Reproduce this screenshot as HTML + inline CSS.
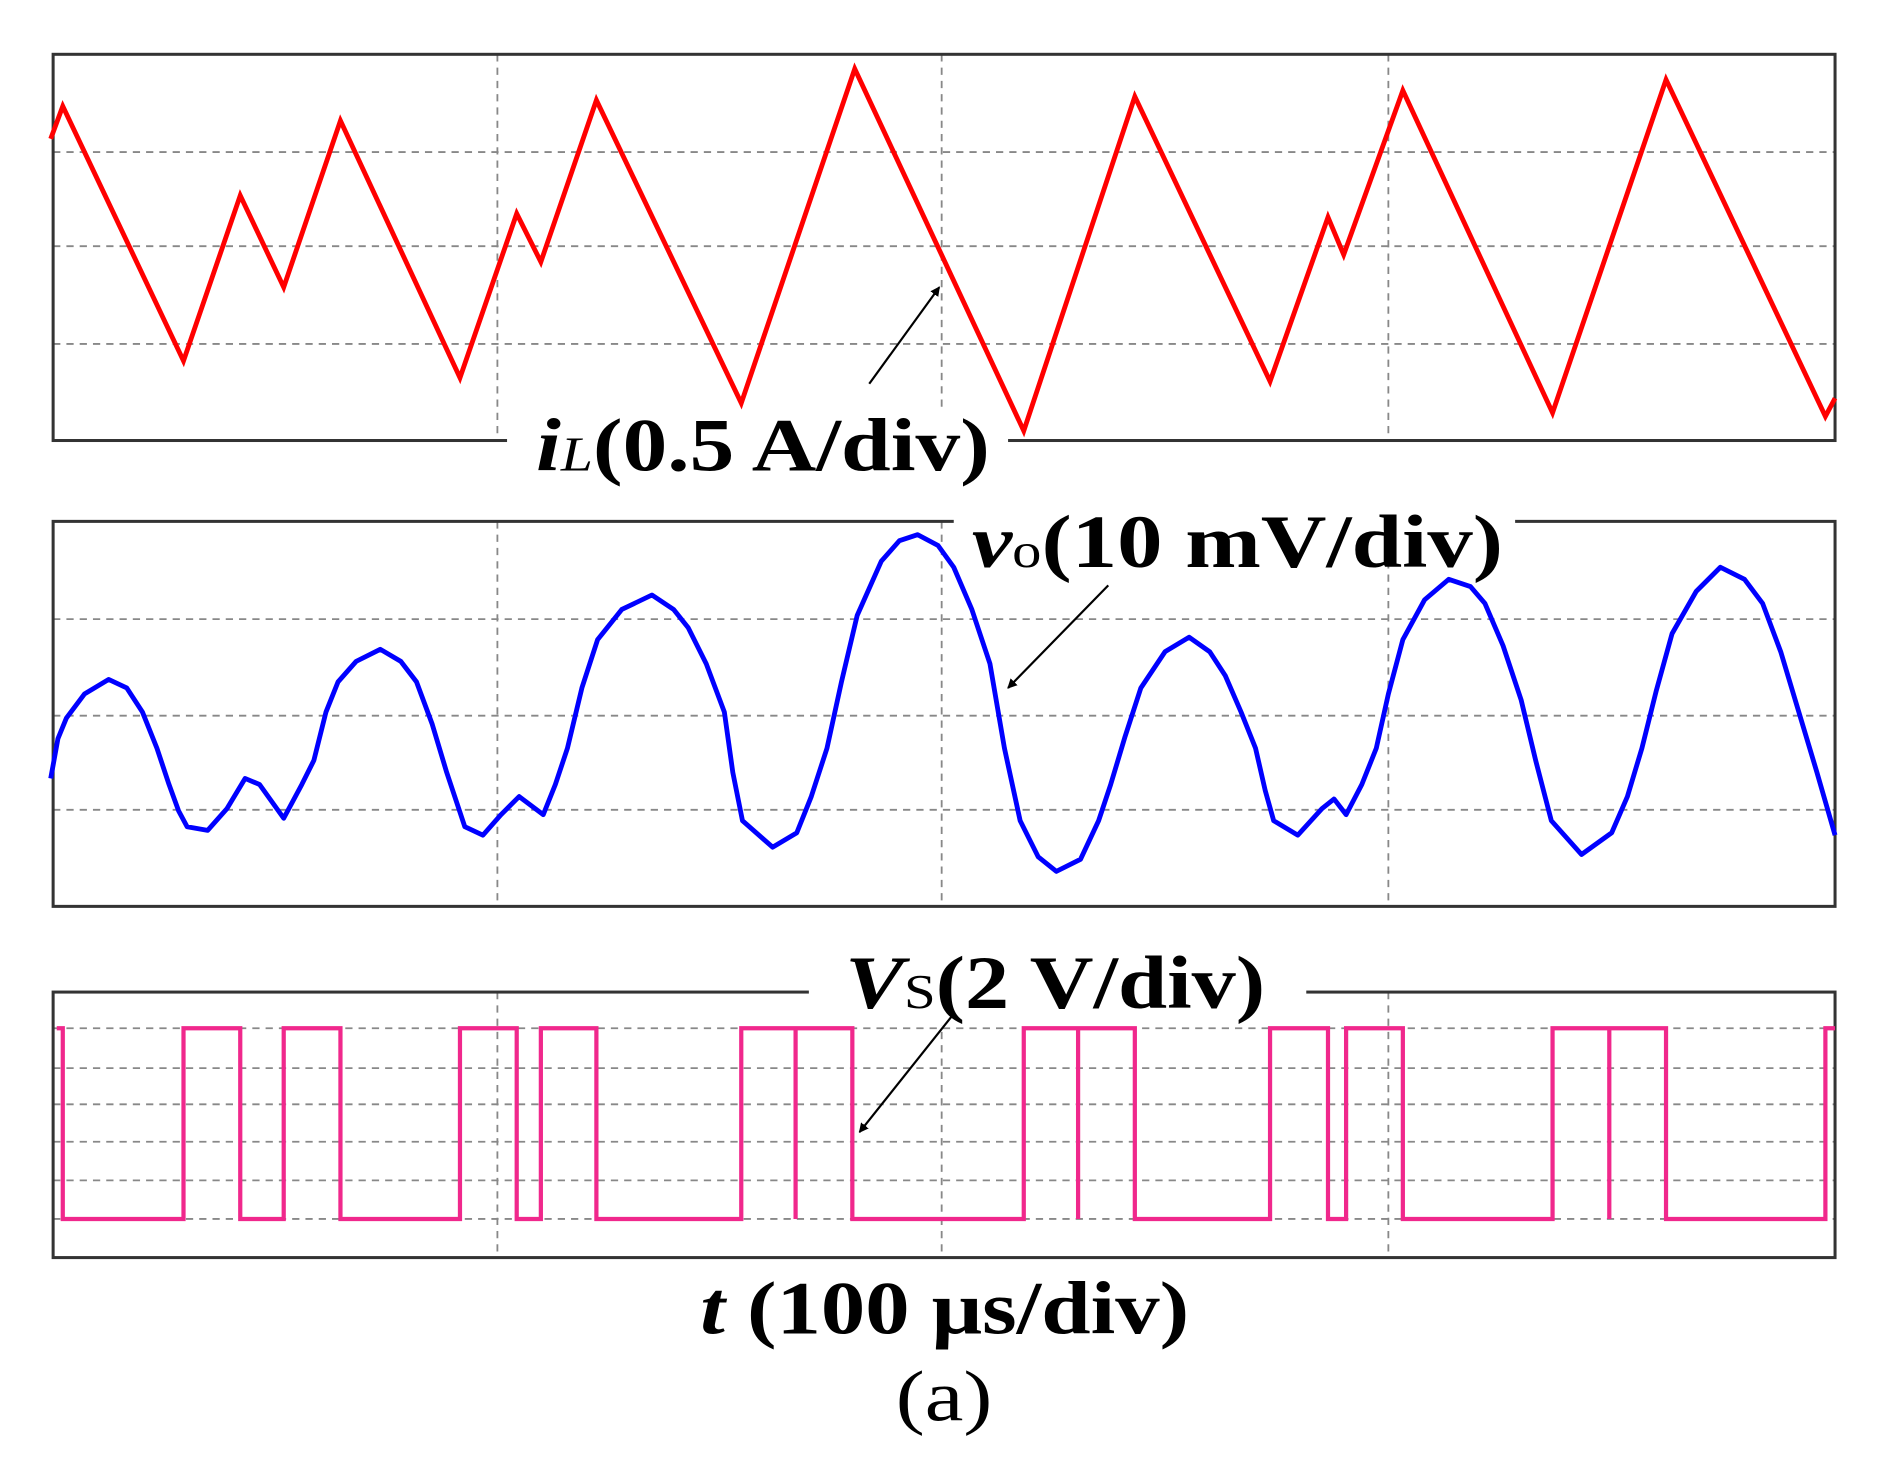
<!DOCTYPE html>
<html><head><style>html,body{margin:0;padding:0;background:#fff}svg{display:block}</style></head><body>
<svg width="1893" height="1470" viewBox="0 0 1568 1218" preserveAspectRatio="none" xmlns="http://www.w3.org/2000/svg" font-family="Liberation Serif, serif">
<defs><marker id="ah" markerWidth="8" markerHeight="8" refX="7" refY="4" orient="auto" markerUnits="userSpaceOnUse"><path d="M0,0 L8,4 L0,8 z" fill="#000" transform="scale(2) translate(-4,-2)"/></marker></defs>
<g stroke="#888" stroke-width="1.5" stroke-dasharray="6,5" fill="none">
<path d="M44,126H1520M44,204H1520M44,285H1520"/>
<path d="M44,513H1520M44,593H1520M44,671H1520"/>
<path d="M44,852H1520M44,885H1520M44,915H1520M44,946H1520M44,978H1520M44,1010H1520"/>
<path d="M412,45V365M780,45V365M1150,45V365M412,432V751M780,432V751M1150,432V751M412,822V1042M780,822V1042M1150,822V1042"/>
</g>
<g stroke="#333" stroke-width="2.5" fill="none">
<rect x="44" y="45" width="1476" height="320"/>
<rect x="44" y="432" width="1476" height="319"/>
<rect x="44" y="822" width="1476" height="220"/>
</g>
<rect x="420" y="340" width="415" height="60" fill="#fff"/>
<rect x="670" y="800" width="412" height="50" fill="#fff"/>
<rect x="790" y="420" width="465" height="40" fill="#fff"/>
<polyline fill="none" stroke="#f00" stroke-width="4" points="42,115 52,88 152,299 199,162 235,238 282,100 381,313 428,177 448,217 494,83 614,334 708,57 848,357 940,80 1052,316 1100,180 1113,211 1162,75 1286,342 1380,66 1512,345 1520,330"/>
<polyline fill="none" stroke="#00f" stroke-width="4" stroke-linejoin="round" points="42,645 48,612 55,595 70,575 90,563 105,570 118,590 130,620 140,650 148,672 155,685 172,688 188,670 203,645 215,650 235,678 250,650 260,630 270,590 280,565 295,548 315,538 332,548 345,565 358,600 370,640 385,685 400,692 415,675 430,660 450,675 460,650 470,620 482,570 495,530 515,505 540,493 558,505 570,520 585,550 600,590 607,640 615,680 640,702 660,690 672,660 685,620 697,565 710,510 730,465 745,448 760,443 777,452 790,470 805,505 820,550 832,620 845,680 860,710 875,722 895,712 910,680 920,650 932,610 945,570 965,540 985,528 1002,540 1015,560 1028,590 1040,620 1048,655 1055,680 1075,692 1095,670 1105,662 1115,675 1128,650 1140,620 1150,575 1162,530 1180,497 1200,480 1218,486 1230,500 1245,535 1260,580 1272,630 1285,680 1310,708 1335,690 1348,660 1360,620 1372,572 1385,525 1405,490 1425,470 1445,480 1460,500 1475,540 1490,590 1505,640 1520,692"/>
<polyline fill="none" stroke="#f0288c" stroke-width="3.5" points="47,852 52,852 52,1010 152,1010 152,852 199,852 199,1010 235,1010 235,852 282,852 282,1010 381,1010 381,852 428,852 428,1010 448,1010 448,852 494,852 494,1010 614,1010 614,852 659,852 659,1010 659,852 706,852 706,1010 848,1010 848,852 893,852 893,1010 893,852 940,852 940,1010 1052,1010 1052,852 1100,852 1100,1010 1115,1010 1115,852 1162,852 1162,1010 1286,1010 1286,852 1333,852 1333,1010 1333,852 1380,852 1380,1010 1512,1010 1512,852 1520,852"/>
<g stroke="#000" stroke-width="1.8">
<line x1="720" y1="318" x2="778" y2="238" marker-end="url(#ah)"/>
<line x1="918" y1="485" x2="835" y2="570" marker-end="url(#ah)"/>
<line x1="790" y1="840" x2="712" y2="938" marker-end="url(#ah)"/>
</g>
<g font-weight="bold" font-size="62" fill="#000">
<text x="444" y="390" textLength="376" lengthAdjust="spacingAndGlyphs"><tspan font-style="italic">i</tspan><tspan font-style="italic" font-size="40" font-weight="normal">L</tspan>(0.5 A/div)</text>
<text x="805" y="470" textLength="440" lengthAdjust="spacingAndGlyphs"><tspan font-style="italic">v</tspan><tspan font-size="40" font-weight="normal">o</tspan>(10 mV/div)</text>
<text x="700" y="835" textLength="348" lengthAdjust="spacingAndGlyphs"><tspan font-style="italic">V</tspan><tspan font-size="40" font-weight="normal">S</tspan>(2 V/div)</text>
<text x="580" y="1105" textLength="405" lengthAdjust="spacingAndGlyphs"><tspan font-style="italic">t</tspan> (100 μs/div)</text>
</g>
<text x="742" y="1177" textLength="80" lengthAdjust="spacingAndGlyphs" font-size="60">(a)</text>
</svg>
</body></html>
